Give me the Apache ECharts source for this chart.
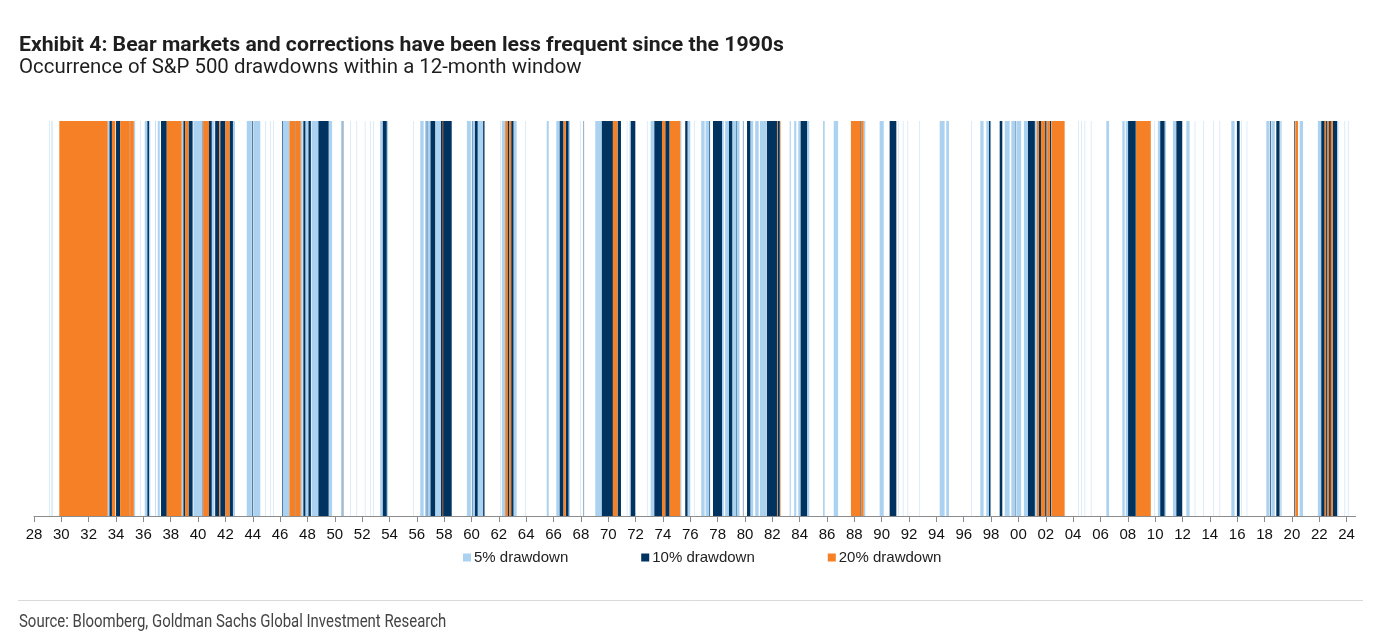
<!DOCTYPE html>
<html>
<head>
<meta charset="utf-8">
<script src="https://cdn.jsdelivr.net/npm/echarts@6/dist/echarts.min.js"></script>
<style>
  html, body { margin: 0; padding: 0; background: #fff; }
  #chartsDiv { width: 1381px; height: 642px; }
</style>
</head>
<body>
<div id="chartsDiv"></div>
<script>
// periods as [start, end] in decimal years
var seriesNames = ['5% drawdown', '10% drawdown', '20% drawdown']
var colors = ['#abd2f0', '#00335f', '#f58025']

var dd5 = [
  [1929.10, 1929.13], [1929.24, 1929.27], [1929.36, 1929.39],
  [1933.39, 1933.50], [1935.30, 1935.40], [1935.75, 1935.78], [1936.10, 1936.28], [1936.41, 1936.50],
  [1936.85, 1936.90], [1937.05, 1937.20], [1938.80, 1938.93], [1939.66, 1940.34], [1941.00, 1941.20],
  [1942.55, 1942.70], [1943.56, 1943.93], [1944.05, 1944.55], [1944.90, 1944.93], [1945.27, 1945.30],
  [1945.51, 1945.54], [1946.15, 1946.68], [1947.51, 1947.65], [1947.85, 1948.05], [1948.30, 1948.80],
  [1949.55, 1949.80], [1950.45, 1950.55], [1951.12, 1951.15], [1951.60, 1951.63], [1952.20, 1952.23],
  [1952.60, 1952.63], [1952.83, 1952.86], [1953.32, 1953.50], [1953.80, 1953.90], [1955.76, 1955.79],
  [1956.25, 1956.50], [1956.60, 1957.00], [1957.35, 1957.70], [1959.66, 1959.95], [1960.05, 1960.25],
  [1960.45, 1960.85], [1962.10, 1962.13], [1962.22, 1962.46], [1963.07, 1963.30], [1963.92, 1963.95],
  [1965.50, 1965.65], [1966.20, 1966.45], [1967.10, 1967.20], [1967.95, 1967.98], [1969.05, 1969.53],
  [1971.36, 1971.39], [1971.56, 1971.65], [1972.83, 1972.86], [1973.10, 1973.37], [1975.27, 1975.35],
  [1975.80, 1976.00], [1976.30, 1976.33], [1976.80, 1977.05], [1977.12, 1977.46], [1978.32, 1978.45],
  [1978.55, 1978.83], [1979.07, 1979.60], [1980.39, 1980.60], [1980.75, 1981.00], [1981.10, 1981.56],
  [1983.27, 1983.35], [1983.60, 1983.75], [1983.90, 1984.07], [1984.54, 1984.70], [1985.71, 1985.83],
  [1986.49, 1986.81], [1988.68, 1988.80], [1989.85, 1990.15], [1991.20, 1991.23], [1991.55, 1991.58],
  [1991.90, 1991.93], [1992.77, 1992.80], [1994.24, 1994.60], [1994.72, 1994.92], [1996.55, 1996.58],
  [1997.21, 1997.45], [1997.65, 1997.85], [1997.95, 1998.00], [1999.00, 1999.36], [1999.48, 1999.75],
  [1999.85, 2000.20], [2000.40, 2000.70], [2001.20, 2001.35], [2002.05, 2002.10], [2004.36, 2004.39],
  [2004.60, 2004.63], [2004.85, 2004.88], [2005.30, 2005.33], [2006.43, 2006.63], [2007.60, 2007.77],
  [2007.85, 2008.02], [2009.96, 2009.99], [2010.20, 2010.37], [2010.69, 2010.80], [2011.30, 2011.55],
  [2012.28, 2012.52], [2012.90, 2012.93], [2013.50, 2013.53], [2014.23, 2014.26], [2014.72, 2014.75],
  [2015.57, 2015.81], [2016.30, 2016.33], [2016.70, 2016.73], [2018.13, 2018.37], [2018.50, 2018.75],
  [2019.15, 2019.25], [2020.57, 2020.81], [2021.90, 2022.15], [2023.30, 2023.40], [2023.86, 2023.89],
  [2024.10, 2024.13]
]

var dd10 = [
  [1933.52, 1933.70], [1934.00, 1934.30], [1935.00, 1935.03], [1936.29, 1936.41], [1937.29, 1937.71],
  [1938.93, 1939.05], [1939.30, 1939.60], [1940.34, 1940.37], [1940.80, 1941.00], [1941.25, 1941.55],
  [1941.62, 1942.00], [1942.30, 1942.55], [1943.97, 1944.02], [1946.17, 1946.21], [1947.12, 1947.15],
  [1947.70, 1947.85], [1948.07, 1948.25], [1948.80, 1949.55], [1950.58, 1950.62], [1953.51, 1953.80],
  [1956.73, 1956.76], [1957.00, 1957.34], [1957.75, 1958.55], [1960.03, 1960.06], [1960.25, 1960.45],
  [1960.85, 1960.95], [1962.63, 1962.75], [1962.90, 1963.07], [1966.45, 1966.73], [1966.90, 1967.10],
  [1968.20, 1968.23], [1969.53, 1970.34], [1970.68, 1970.93], [1971.65, 1971.98], [1973.37, 1973.93],
  [1974.17, 1974.49], [1975.63, 1975.80], [1977.40, 1977.44], [1977.66, 1978.32], [1978.83, 1979.07],
  [1979.35, 1979.38], [1979.85, 1979.88], [1980.15, 1980.39], [1981.60, 1982.34], [1982.38, 1982.55],
  [1984.07, 1984.54], [1988.44, 1988.51], [1990.58, 1991.07], [1997.85, 1997.95], [1998.63, 1998.82],
  [1999.77, 1999.80], [2000.70, 2001.20], [2001.50, 2001.65], [2001.95, 2002.05], [2002.30, 2002.40],
  [2008.02, 2008.58], [2010.37, 2010.69], [2011.55, 2011.98], [2015.98, 2016.18], [2018.40, 2018.45],
  [2018.86, 2019.10], [2020.18, 2020.23], [2022.15, 2022.40], [2022.50, 2022.60], [2022.72, 2022.85],
  [2023.00, 2023.30]
]

var dd20 = [
  [1929.85, 1933.39], [1933.70, 1933.95], [1934.30, 1935.00], [1935.03, 1935.30], [1937.71, 1938.80],
  [1939.05, 1939.30], [1940.37, 1940.80], [1941.55, 1941.62], [1942.00, 1942.30], [1946.68, 1947.12],
  [1947.15, 1947.51], [1957.88, 1957.93], [1962.46, 1962.63], [1962.75, 1962.90], [1966.73, 1966.90],
  [1970.34, 1970.68], [1973.93, 1974.17], [1974.49, 1975.27], [1982.34, 1982.38], [1982.55, 1982.60],
  [1987.75, 1988.44], [1988.51, 1988.68], [2001.35, 2001.50], [2001.65, 2001.95], [2002.10, 2002.30],
  [2002.42, 2003.38], [2008.60, 2009.68], [2020.25, 2020.45], [2022.40, 2022.50], [2022.60, 2022.72],
  [2022.85, 2023.00]
]

var yearMin = 1928
var yearMax = 2024.66

var titleText = 'Exhibit 4: Bear markets and corrections have been less frequent since the 1990s'
var subtitleText = 'Occurrence of S&P 500 drawdowns within a 12-month window'
var sourceText = 'Source: Bloomberg, Goldman Sachs Global Investment Research'

var renderStripe = function(params, api) {
  var p0 = api.coord([api.value(0), 1])
  var p1 = api.coord([api.value(1), 0])
  return {
    type: 'rect',
    shape: { x: p0[0], y: p0[1], width: p1[0] - p0[0], height: p1[1] - p0[1] },
    style: api.style()
  }
}

var makeSeries = function(idx, data) {
  return {
    name: seriesNames[idx],
    type: 'custom',
    renderItem: renderStripe,
    encode: { x: [0, 1] },
    itemStyle: { color: colors[idx] },
    z: 2 + idx,
    silent: true,
    animation: false,
    data: data
  }
}

// Roboto stretched/squeezed horizontally to fit the original widths
var squeezedText = function(txt, x, y, font, color, sx) {
  return {
    type: 'text',
    x: x,
    y: y,
    scaleX: sx,
    style: { text: txt, font: font, fill: color, verticalAlign: 'top' }
  }
}

var realChart = echarts.init(document.getElementById('chartsDiv'), null, { renderer: 'canvas' })

var option = {
  backgroundColor: '#fff',
  animation: false,
  legend: {
    left: 458,
    top: 545,
    icon: 'rect',
    itemWidth: 8,
    itemHeight: 8,
    itemGap: 73,
    textStyle: { fontFamily: 'Liberation Sans', fontSize: 15, color: '#222', padding: [0, 0, 0, -2] },
    data: seriesNames
  },
  grid: { left: 34, right: 1381 - 1355.6, top: 121, height: 395 },
  xAxis: {
    type: 'value',
    min: yearMin,
    max: yearMax,
    interval: 2,
    axisLine: { lineStyle: { color: '#8c8c8c', width: 1 } },
    axisTick: { length: 6, lineStyle: { color: '#8c8c8c' } },
    splitLine: { show: false },
    axisLabel: {
      showMaxLabel: false,
      margin: 11,
      fontFamily: 'Liberation Sans',
      fontSize: 15,
      color: '#111',
      formatter: function(value) {
        if (Math.round(value) !== value) return ''
        return String(value).slice(2)
      }
    }
  },
  yAxis: { type: 'value', min: 0, max: 1, show: false },
  graphic: [
    squeezedText(titleText, 19, 35, 'bold 21px Roboto', '#1e1e1e', 1.01),
    squeezedText(subtitleText, 19, 58, 'normal 20px Roboto', '#1e1e1e', 1.02),
    squeezedText(sourceText, 19, 613, 'normal 18px Roboto', '#444', 0.83),
    {
      type: 'line',
      shape: { x1: 18, y1: 600.5, x2: 1363, y2: 600.5 },
      style: { stroke: '#d9d9d9', lineWidth: 1 }
    }
  ],
  series: [makeSeries(0, dd5), makeSeries(1, dd10), makeSeries(2, dd20)]
}

realChart.setOption(option)
</script>
</body>
</html>
